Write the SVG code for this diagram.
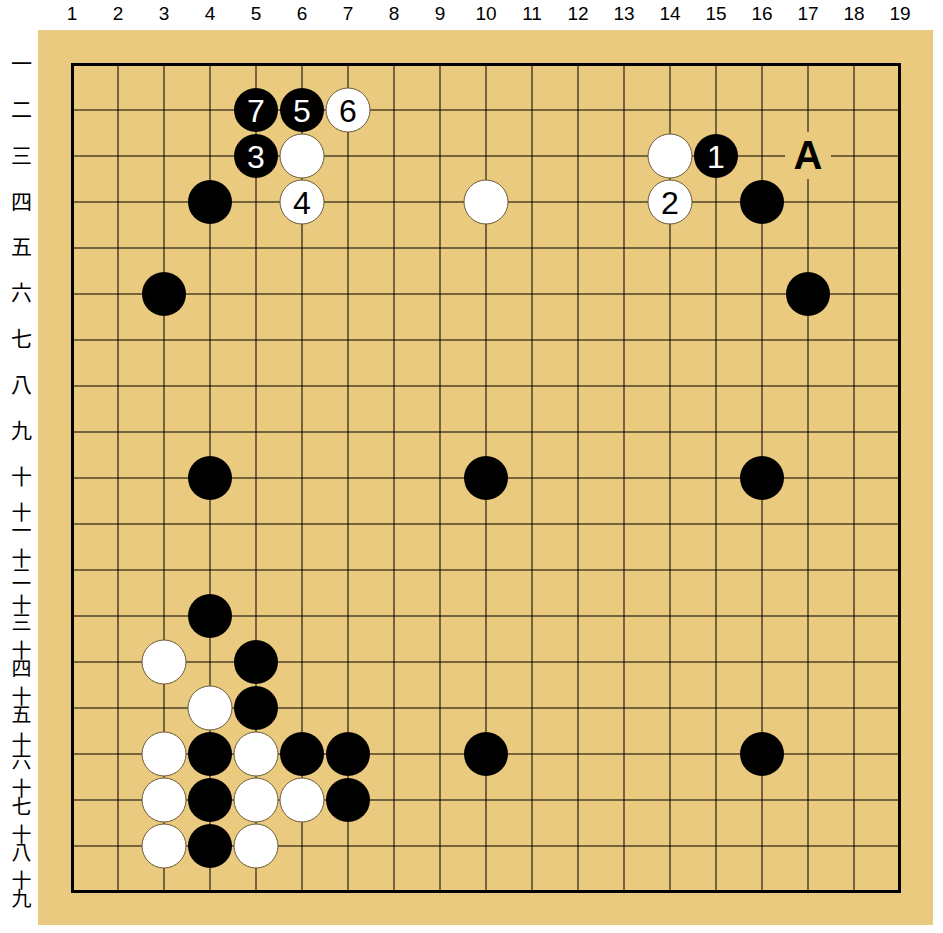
<svg xmlns="http://www.w3.org/2000/svg" width="943" height="933" viewBox="0 0 943 933">
<style>
.col{font-family:"Liberation Sans",Arial,sans-serif;font-size:19px;fill:#000;text-anchor:middle}
.row{font-family:"Noto Sans CJK JP","Noto Sans CJK SC",sans-serif;font-size:21px;fill:#000;text-anchor:middle}
.rv{font-family:"Noto Sans CJK JP","Noto Sans CJK SC",sans-serif;font-size:20px;fill:#000;text-anchor:middle;writing-mode:vertical-rl;letter-spacing:-2px}
.g{stroke:#000;stroke-width:1;fill:none}
.b{fill:#000}
.w{fill:#fff;stroke:#6b5a3a;stroke-width:1}
.nb{font-family:"Liberation Sans",Arial,sans-serif;font-size:32px;fill:#fff;text-anchor:middle}
.nw{font-family:"Liberation Sans",Arial,sans-serif;font-size:32px;fill:#000;text-anchor:middle}
</style>
<rect x="0" y="0" width="943" height="933" fill="#fff"/>
<rect x="38" y="30" width="895" height="895" fill="#E9CA7E"/>
<g id="col-labels">
<text class="col" x="72" y="20">1</text><text class="col" x="118" y="20">2</text><text class="col" x="164" y="20">3</text><text class="col" x="210" y="20">4</text><text class="col" x="256" y="20">5</text><text class="col" x="302" y="20">6</text><text class="col" x="348" y="20">7</text><text class="col" x="394" y="20">8</text><text class="col" x="440" y="20">9</text><text class="col" x="486" y="20">10</text><text class="col" x="532" y="20">11</text><text class="col" x="578" y="20">12</text><text class="col" x="624" y="20">13</text><text class="col" x="670" y="20">14</text><text class="col" x="716" y="20">15</text><text class="col" x="762" y="20">16</text><text class="col" x="808" y="20">17</text><text class="col" x="854" y="20">18</text><text class="col" x="900" y="20">19</text>
</g>
<g id="row-labels">
<text class="row" x="21.5" y="71">一</text>
<text class="row" x="21.5" y="117">二</text>
<text class="row" x="21.5" y="163">三</text>
<text class="row" x="21.5" y="209">四</text>
<text class="row" x="21.5" y="254">五</text>
<text class="row" x="21.5" y="300">六</text>
<text class="row" x="21.5" y="346">七</text>
<text class="row" x="21.5" y="392">八</text>
<text class="row" x="21.5" y="438">九</text>
<text class="row" x="21.5" y="484">十</text>
<text class="rv" x="21.5" y="520">十一</text>
<text class="rv" x="21.5" y="566">十二</text>
<text class="rv" x="21.5" y="612">十三</text>
<text class="rv" x="21.5" y="658">十四</text>
<text class="rv" x="21.5" y="704">十五</text>
<text class="rv" x="21.5" y="750">十六</text>
<text class="rv" x="21.5" y="796">十七</text>
<text class="rv" x="21.5" y="842">十八</text>
<text class="rv" x="21.5" y="888">十九</text>
</g>
<g id="grid">
<path class="g" d="M118 64V892M164 64V892M210 64V892M256 64V892M302 64V892M348 64V892M394 64V892M440 64V892M486 64V892M532 64V892M578 64V892M624 64V892M670 64V892M716 64V892M762 64V892M808 64V892M854 64V892M72 110H900M72 156H900M72 202H900M72 248H900M72 294H900M72 340H900M72 386H900M72 432H900M72 478H900M72 524H900M72 570H900M72 616H900M72 662H900M72 708H900M72 754H900M72 800H900M72 846H900"/>
<rect x="72.5" y="64.5" width="827" height="827" fill="none" stroke="#000" stroke-width="3"/>
</g>
<g id="connectors"></g>
<g id="mark-A">
<rect x="785" y="132" width="46" height="47" fill="#E9CA7E"/>
<text x="808" y="169" font-family="Liberation Sans,Arial,sans-serif" font-size="40" font-weight="bold" text-anchor="middle" fill="#000">A</text>
</g>
<g id="stones">
<g id="m7"><circle class="b" cx="256" cy="110" r="22"/><text class="nb" x="256" y="121.5">7</text></g>
<g id="m5"><circle class="b" cx="302" cy="110" r="22"/><text class="nb" x="302" y="121.5">5</text></g>
<g id="m6"><circle class="w" cx="348" cy="110" r="22"/><text class="nw" x="348" y="121.5">6</text></g>
<g id="m3"><circle class="b" cx="256" cy="156" r="22"/><text class="nb" x="256" y="167.5">3</text></g>
<g id="w-6-3"><circle class="w" cx="302" cy="156" r="22"/></g>
<g id="m4"><circle class="w" cx="302" cy="202" r="22"/><text class="nw" x="302" y="213.5">4</text></g>
<g id="w-14-3"><circle class="w" cx="670" cy="156" r="22"/></g>
<g id="m1"><circle class="b" cx="716" cy="156" r="22"/><text class="nb" x="716" y="167.5">1</text></g>
<g id="m2"><circle class="w" cx="670" cy="202" r="22"/><text class="nw" x="670" y="213.5">2</text></g>
<g id="b-4-4"><circle class="b" cx="210" cy="202" r="22"/></g>
<g id="w-10-4"><circle class="w" cx="486" cy="202" r="22"/></g>
<g id="b-16-4"><circle class="b" cx="762" cy="202" r="22"/></g>
<g id="b-3-6"><circle class="b" cx="164" cy="294" r="22"/></g>
<g id="b-17-6"><circle class="b" cx="808" cy="294" r="22"/></g>
<g id="b-4-10"><circle class="b" cx="210" cy="478" r="22"/></g>
<g id="b-10-10"><circle class="b" cx="486" cy="478" r="22"/></g>
<g id="b-16-10"><circle class="b" cx="762" cy="478" r="22"/></g>
<g id="b-4-13"><circle class="b" cx="210" cy="616" r="22"/></g>
<g id="w-3-14"><circle class="w" cx="164" cy="662" r="22"/></g>
<g id="b-5-14"><circle class="b" cx="256" cy="662" r="22"/></g>
<g id="w-4-15"><circle class="w" cx="210" cy="708" r="22"/></g>
<g id="b-5-15"><circle class="b" cx="256" cy="708" r="22"/></g>
<g id="w-3-16"><circle class="w" cx="164" cy="754" r="22"/></g>
<g id="b-4-16"><circle class="b" cx="210" cy="754" r="22"/></g>
<g id="w-5-16"><circle class="w" cx="256" cy="754" r="22"/></g>
<g id="b-6-16"><circle class="b" cx="302" cy="754" r="22"/></g>
<g id="b-7-16"><circle class="b" cx="348" cy="754" r="22"/></g>
<g id="b-10-16"><circle class="b" cx="486" cy="754" r="22"/></g>
<g id="b-16-16"><circle class="b" cx="762" cy="754" r="22"/></g>
<g id="w-3-17"><circle class="w" cx="164" cy="800" r="22"/></g>
<g id="b-4-17"><circle class="b" cx="210" cy="800" r="22"/></g>
<g id="w-5-17"><circle class="w" cx="256" cy="800" r="22"/></g>
<g id="w-6-17"><circle class="w" cx="302" cy="800" r="22"/></g>
<g id="b-7-17"><circle class="b" cx="348" cy="800" r="22"/></g>
<g id="w-3-18"><circle class="w" cx="164" cy="846" r="22"/></g>
<g id="b-4-18"><circle class="b" cx="210" cy="846" r="22"/></g>
<g id="w-5-18"><circle class="w" cx="256" cy="846" r="22"/></g>
</g>
</svg>
